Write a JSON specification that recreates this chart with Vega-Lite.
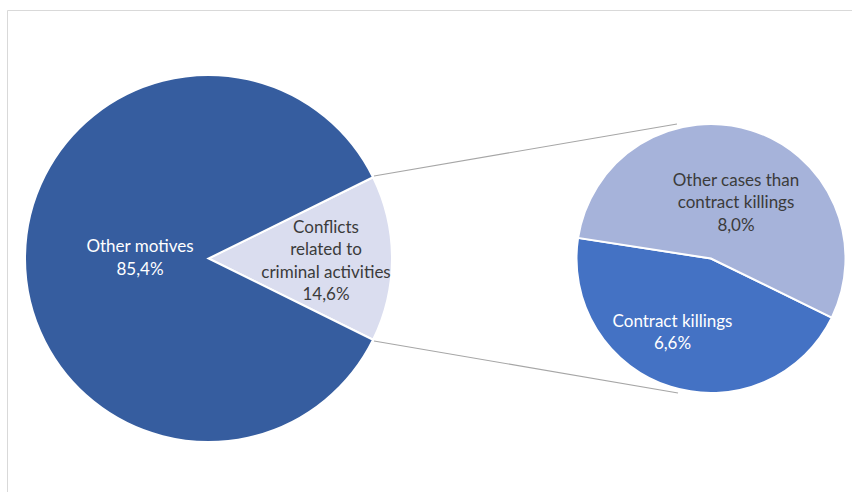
{
  "$schema": "https://vega.github.io/schema/vega-lite/v6.json",
  "width": 852,
  "height": 492,
  "autosize": {"type": "none"},
  "padding": 0,
  "background": "white",
  "config": {"view": {"stroke": null}, "font": "Lato"},
  "datasets": {
    "main": [
      {"motive": "Conflicts related to criminal activities", "share": 14.6},
      {"motive": "Other motives", "share": 85.4}
    ],
    "detail": [
      {"case": "Contract killings", "share": 6.6},
      {"case": "Other cases than contract killings", "share": 8.0}
    ]
  },
  "layer": [
    {
      "data": {"values": [{"frame": "chart area"}]},
      "mark": {"type": "rect", "fill": null, "stroke": "#D9D9D9", "strokeWidth": 1},
      "encoding": {
        "x": {"datum": 7.5, "type": "quantitative", "scale": {"domain": [0, 852], "nice": false, "zero": false}, "axis": null},
        "x2": {"datum": 880},
        "y": {"datum": 10.5, "type": "quantitative", "scale": {"domain": [0, 492], "nice": false, "zero": false, "reverse": true}, "axis": null},
        "y2": {"datum": 520}
      }
    },
    {
      "data": {"values": [{"link": "upper"}]},
      "mark": {"type": "rule", "color": "#A6A6A6", "strokeWidth": 1.2},
      "encoding": {
        "x": {"datum": 374, "type": "quantitative"},
        "y": {"datum": 176, "type": "quantitative"},
        "x2": {"datum": 677},
        "y2": {"datum": 124}
      }
    },
    {
      "data": {"values": [{"link": "lower"}]},
      "mark": {"type": "rule", "color": "#A6A6A6", "strokeWidth": 1.2},
      "encoding": {
        "x": {"datum": 374, "type": "quantitative"},
        "y": {"datum": 341, "type": "quantitative"},
        "x2": {"datum": 678},
        "y2": {"datum": 393}
      }
    },
    {
      "data": {"name": "main"},
      "mark": {"type": "arc", "outerRadius": 183.5, "stroke": "white", "strokeWidth": 2},
      "encoding": {
        "x": {"datum": 208.5, "type": "quantitative"},
        "y": {"datum": 258.5, "type": "quantitative"},
        "theta": {"field": "share", "type": "quantitative", "stack": true, "scale": {"range": [1.1121, 7.3953]}},
        "color": {
          "field": "motive", "type": "nominal", "legend": null,
          "scale": {"domain": ["Conflicts related to criminal activities", "Other motives"], "range": ["#DADDEF", "#365D9F"]}
        },
        "order": {"field": "motive", "sort": "ascending"}
      }
    },
    {
      "data": {"name": "detail"},
      "mark": {"type": "arc", "outerRadius": 134.5, "stroke": "white", "strokeWidth": 2},
      "encoding": {
        "x": {"datum": 711, "type": "quantitative"},
        "y": {"datum": 258.5, "type": "quantitative"},
        "theta": {"field": "share", "type": "quantitative", "stack": true, "scale": {"range": [2.026, 8.3092]}},
        "color": {
          "field": "case", "type": "nominal", "legend": null,
          "scale": {"domain": ["Contract killings", "Other cases than contract killings"], "range": ["#4472C4", "#A6B3DA"]}
        },
        "order": {"field": "case", "sort": "ascending"}
      }
    },
    {
      "data": {"name": "main"},
      "transform": [
        {"filter": "datum.motive === 'Other motives'"},
        {"calculate": "[datum.motive, replace(format(datum.share, '.1f'), '.', ',') + '%']", "as": "lbl"}
      ],
      "mark": {"type": "text", "fontSize": 17, "lineHeight": 22.5, "color": "white", "align": "center", "baseline": "middle"},
      "encoding": {
        "x": {"datum": 140, "type": "quantitative"},
        "y": {"datum": 247, "type": "quantitative"},
        "text": {"field": "lbl", "type": "nominal"}
      }
    },
    {
      "data": {"name": "main"},
      "transform": [
        {"filter": "datum.motive === 'Conflicts related to criminal activities'"},
        {"calculate": "['Conflicts', 'related to', 'criminal activities', replace(format(datum.share, '.1f'), '.', ',') + '%']", "as": "lbl"}
      ],
      "mark": {"type": "text", "fontSize": 17, "lineHeight": 22.5, "color": "#3B3B3B", "align": "center", "baseline": "middle"},
      "encoding": {
        "x": {"datum": 326, "type": "quantitative"},
        "y": {"datum": 227.5, "type": "quantitative"},
        "text": {"field": "lbl", "type": "nominal"}
      }
    },
    {
      "data": {"name": "detail"},
      "transform": [
        {"filter": "datum.case === 'Other cases than contract killings'"},
        {"calculate": "['Other cases than', 'contract killings', replace(format(datum.share, '.1f'), '.', ',') + '%']", "as": "lbl"}
      ],
      "mark": {"type": "text", "fontSize": 17, "lineHeight": 22.5, "color": "#3B3B3B", "align": "center", "baseline": "middle"},
      "encoding": {
        "x": {"datum": 736, "type": "quantitative"},
        "y": {"datum": 180.5, "type": "quantitative"},
        "text": {"field": "lbl", "type": "nominal"}
      }
    },
    {
      "data": {"name": "detail"},
      "transform": [
        {"filter": "datum.case === 'Contract killings'"},
        {"calculate": "[datum.case, replace(format(datum.share, '.1f'), '.', ',') + '%']", "as": "lbl"}
      ],
      "mark": {"type": "text", "fontSize": 17, "lineHeight": 22, "color": "white", "align": "center", "baseline": "middle"},
      "encoding": {
        "x": {"datum": 672.5, "type": "quantitative"},
        "y": {"datum": 321.5, "type": "quantitative"},
        "text": {"field": "lbl", "type": "nominal"}
      }
    }
  ],
  "resolve": {"scale": {"theta": "independent", "color": "independent"}}
}
